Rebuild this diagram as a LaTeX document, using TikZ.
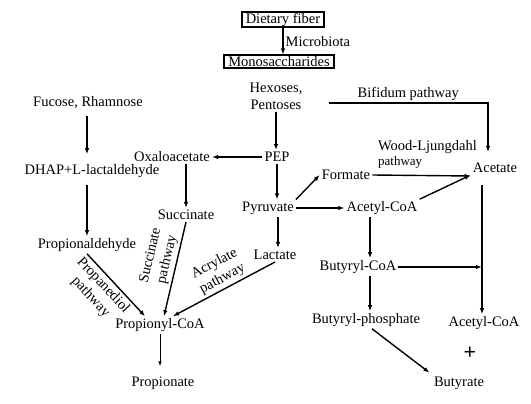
\documentclass[tikz,border=0pt]{standalone}
\usepackage{fontspec}
\setmainfont{Liberation Serif}
\usetikzlibrary{arrows.meta}

\begin{document}
\begin{tikzpicture}[x=1pt, y=-1pt,
    txt/.style={inner sep=2pt, font=\fontsize{14.5}{17}\selectfont},
    boxed/.style={txt, draw, line width=1.8pt, inner xsep=4pt, inner ysep=1pt},
    flow/.style={-{Latex[length=6pt,width=4.5pt]}, line width=1.4pt},
    lab/.style={txt, sloped, align=center, inner sep=2.5pt}]
    \useasboundingbox (0,0) rectangle (531,404);

    % Top: fiber to sugars
    \node[boxed] (fiber) at (283,19.5) {Dietary fiber};
    \node[boxed] (mono) at (279,61.5) {Monosaccharides};
    \draw[flow] (fiber.south) -- node[txt, right] {Microbiota} (fiber.south |- mono.north);
    \node[txt, align=center] (hex) at (276,96) {Hexoses,\\Pentoses};

    % Central pathway
    \node[txt] (pep) at (277,157) {PEP};
    \node[txt] (oxa) at (172,157) {Oxaloacetate};
    \node[txt] (succ) at (186,215) {Succinate};
    \node[txt] (pyr) at (268,208) {Pyruvate};
    \node[txt] (lact) at (275,255) {Lactate};
    \node[txt] (form) at (346,175) {Formate};
    \node[txt] (acoa) at (382,208) {Acetyl-CoA};
    \node[txt] (acet) at (495,168) {Acetate};
    \node[txt] (bcoa) at (358,267) {Butyryl-CoA};
    \node[txt] (bphos) at (366,320) {Butyryl-phosphate};
    \node[txt] (acoa2) at (484,323) {Acetyl-CoA};
    \node[font=\fontsize{22}{22}\selectfont\bfseries] (plus) at (470,353) {+};
    \node[txt] (butyr) at (459,383) {Butyrate};

    % Left branch
    \node[txt] (fuc) at (88,103) {Fucose, Rhamnose};
    \node[txt] (dhap) at (92,171) {DHAP+L-lactaldehyde};
    \node[txt] (pald) at (87,245) {Propionaldehyde};
    \node[txt] (pcoa) at (160,325) {Propionyl-CoA};
    \node[txt] (prop) at (163,383) {Propionate};

    % Arrows
    \draw[flow] (hex.south) -- (hex.south |- pep.north);
    \coordinate (bif) at ([shift={(-7,-9)}]acet.north);
    \draw[flow] ([shift={(24,7)}]hex.east) -| node[txt, above, pos=0.25] {Bifidum pathway} (bif);
    \draw[flow] (pep) -- (oxa);
    \draw[flow] (pep.south) -- (pep.south |- pyr.north);
    \draw[flow] (pyr.north east) -- (form.west);
    \draw[flow] (pyr) -- (acoa);
    \draw[flow] (form.east) -- ([yshift=-1pt]acet.west |- form.east);
    \node[txt, anchor=west] (wl) at (376,147) {Wood-Ljungdahl};
    \node[txt, anchor=west, font=\fontsize{13}{14}\selectfont] (wlp) at (376,162) {pathway};
    \draw[flow] (acoa.north east) -- (acet.south west);
    \coordinate (acbot) at ([shift={(-13,10)}]acet.south);
    \draw[flow] (acbot) -- (acbot |- acoa2.north);
    \draw[flow] ([xshift=-12pt]acoa.south) -- ([xshift=-12pt]acoa.south |- bcoa.north);
    \draw[flow] (bcoa.east) -- (bcoa.east -| acbot);
    \draw[flow] ([xshift=12pt]bcoa.south) -- ([xshift=12pt]bcoa.south |- bphos.north);
    \draw[flow, shorten >=3pt] ([xshift=6pt]bphos.south) -- (butyr.north west);
    \draw[flow] ([xshift=10pt]pyr.south) -- ([xshift=10pt]pyr.south |- lact.north);

    % To propionate
    \draw[flow, shorten <=5pt, shorten >=8pt] (fuc.south -| pald) -- (dhap.north -| pald);
    \draw[flow, shorten <=5pt] (dhap.south -| pald) -- (pald.north);
    \draw[flow] (oxa.south -| succ) -- (succ.north);
    \draw[flow] (succ.south) -- node[lab, above, pos=0.42] {Succinate\\pathway} ([xshift=4pt]pcoa.north);
    \draw[flow] (pald.south) -- node[lab, below, pos=0.4] {Propanediol\\pathway} ([xshift=-15pt]pcoa.north);
    \draw[flow] (lact.south) -- node[lab, above, pos=0.47] {Acrylate\\pathway} ([xshift=13pt]pcoa.north);
    \draw[-{Latex[length=5pt,width=3.5pt]}, line width=0.8pt, shorten >=8pt] (pcoa.south) -- (pcoa.south |- prop.north);
\end{tikzpicture}
\end{document}
